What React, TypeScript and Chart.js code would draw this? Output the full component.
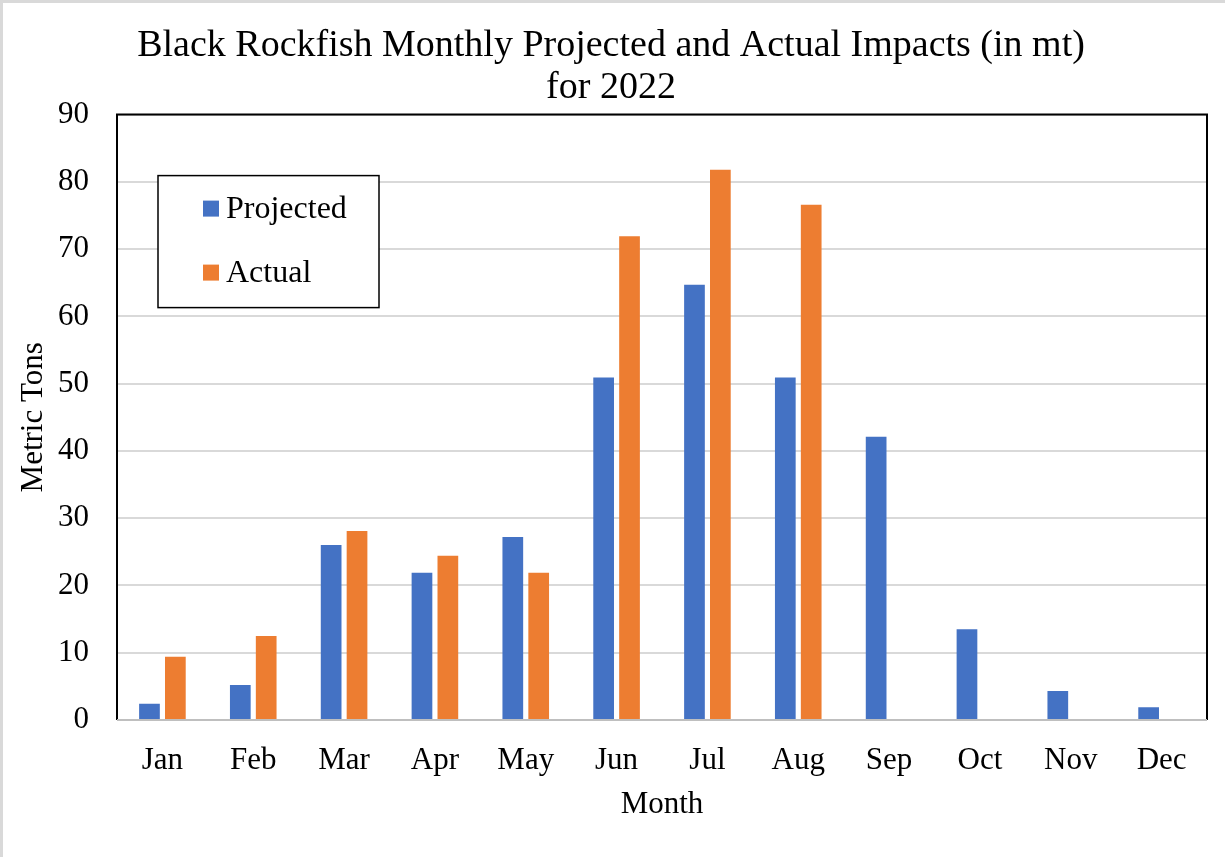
import React, { useEffect, useRef } from "react";
import { Chart, registerables } from "chart.js";

Chart.register(...registerables);

const months = ["Jan", "Feb", "Mar", "Apr", "May", "Jun", "Jul", "Aug", "Sep", "Oct", "Nov", "Dec"];
const projected = [2.4, 5.2, 26.0, 21.9, 27.2, 50.9, 64.7, 50.9, 42.1, 13.5, 4.3, 1.9];
const actual: (number | null)[] = [9.4, 12.5, 28.1, 24.4, 21.9, 71.9, 81.8, 76.6, null, null, null, null];
const seriesNames = ["Projected", "Actual"];
const seriesColors = ["#4472C4", "#ED7D31"];
const titleLines = ["Black Rockfish Monthly Projected and Actual Impacts (in mt)", "for 2022"];
const yTitle = "Metric Tons";
const xTitle = "Month";

const FONT = "'Liberation Serif', 'Times New Roman', serif";

const boxPlugin = {
  id: "boxAndLegend",
  afterDraw(chart: any) {
    const { ctx, chartArea } = chart;
    const { left, right, top, bottom } = chartArea;
    ctx.save();
    ctx.strokeStyle = "#000";
    ctx.lineWidth = 2;
    ctx.beginPath();
    ctx.moveTo(left, bottom);
    ctx.lineTo(left, top);
    ctx.lineTo(right, top);
    ctx.lineTo(right, bottom);
    ctx.stroke();
    ctx.strokeStyle = "#BFBFBF";
    ctx.lineWidth = 2;
    ctx.beginPath();
    ctx.moveTo(left, bottom);
    ctx.lineTo(right, bottom);
    ctx.stroke();

    // legend box
    const lx = left + 41;
    const ly = top + 61;
    const lw = 221;
    const lh = 132;
    ctx.fillStyle = "#fff";
    ctx.fillRect(lx, ly, lw, lh);
    ctx.strokeStyle = "#000";
    ctx.lineWidth = 1.5;
    ctx.strokeRect(lx, ly, lw, lh);
    ctx.font = `32px ${FONT}`;
    ctx.textBaseline = "middle";
    ctx.textAlign = "left";
    const rows = [ly + 33, ly + 97];
    seriesNames.forEach((name, i) => {
      ctx.fillStyle = seriesColors[i];
      ctx.fillRect(lx + 45, rows[i] - 8, 16, 16);
      ctx.fillStyle = "#000";
      ctx.fillText(name, lx + 68, rows[i] + 1);
    });
    ctx.restore();
  },
};

export default function App() {
  const ref = useRef<HTMLCanvasElement>(null);
  useEffect(() => {
    document.body.style.margin = "0";
    const chart = new Chart(ref.current!, {
      type: "bar",
      data: {
        labels: months,
        datasets: [
          {
            label: seriesNames[0],
            data: projected,
            backgroundColor: seriesColors[0],
            categoryPercentage: 0.57,
            barPercentage: 0.8,
          },
          {
            label: seriesNames[1],
            data: actual,
            backgroundColor: seriesColors[1],
            categoryPercentage: 0.57,
            barPercentage: 0.8,
          },
        ],
      },
      options: {
        animation: false,
        responsive: false,
        maintainAspectRatio: false,
        layout: { padding: { left: 12, right: 18, top: 0, bottom: 34 } },
        plugins: {
          legend: { display: false },
          tooltip: { enabled: false },
          title: {
            display: true,
            text: titleLines,
            color: "#000",
            font: { family: FONT, size: 38, weight: "normal", lineHeight: 1.1 },
            padding: { top: 22, bottom: 6 },
          },
        },
        scales: {
          x: {
            grid: { display: false, drawTicks: false },
            border: { display: false },
            afterFit: (s: any) => {
              s.height = 103;
            },
            ticks: {
              color: "#000",
              font: { family: FONT, size: 31 },
              padding: 22,
            },
            title: {
              display: true,
              text: xTitle,
              color: "#000",
              font: { family: FONT, size: 31 },
              padding: { top: 4, bottom: 0 },
            },
          },
          y: {
            min: 0,
            max: 90,
            grid: { color: "#D9D9D9", lineWidth: 2, drawTicks: false },
            border: { display: false },
            afterFit: (s: any) => {
              s.width = 102;
            },
            ticks: {
              stepSize: 10,
              color: "#000",
              font: { family: FONT, size: 31 },
              padding: 28,
            },
            title: {
              display: true,
              text: yTitle,
              color: "#000",
              font: { family: FONT, size: 31 },
              padding: { top: 0, bottom: 12 },
            },
          },
        },
      },
      plugins: [boxPlugin],
    });
    return () => chart.destroy();
  }, []);
  return (
    <div
      style={{
        width: 1225,
        height: 857,
        boxSizing: "border-box",
        borderLeft: "3px solid #D9D9D9",
        borderTop: "3px solid #D9D9D9",
        background: "#fff",
        position: "relative",
      }}
    >
      <canvas ref={ref} width={1222} height={854} style={{ display: "block" }} />
    </div>
  );
}
